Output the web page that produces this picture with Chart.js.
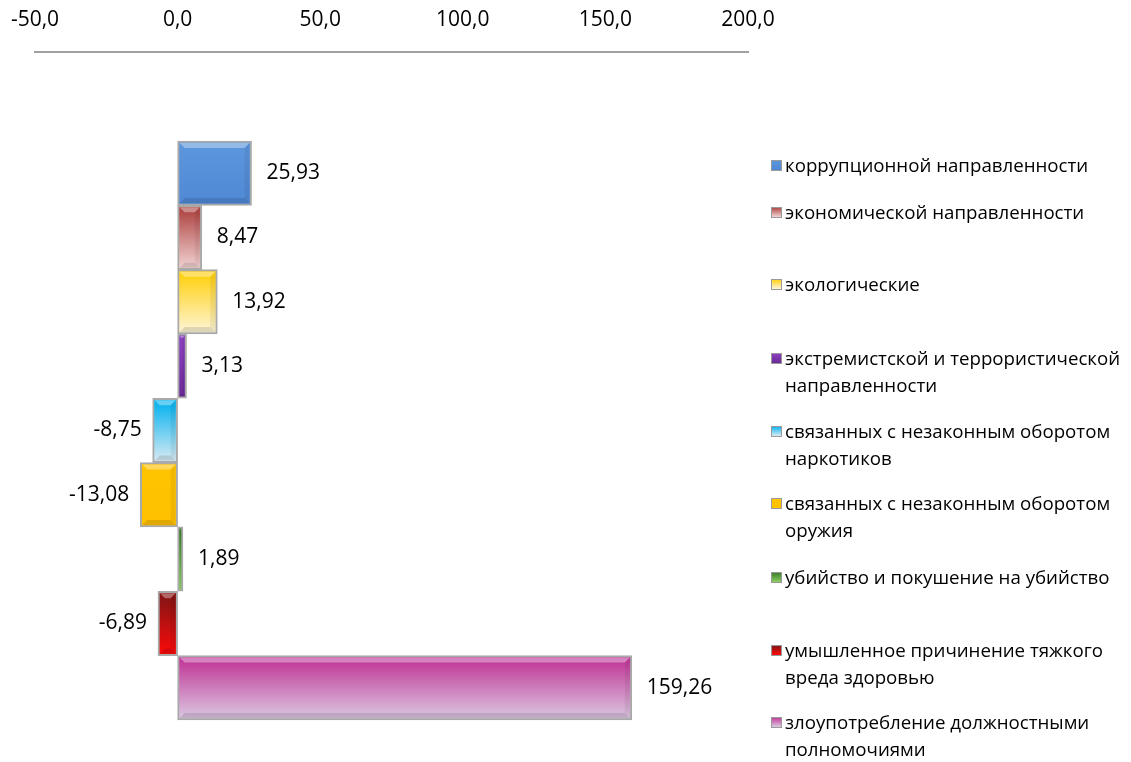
<!DOCTYPE html>
<html>
<head>
<meta charset="utf-8">
<script src="https://cdn.jsdelivr.net/npm/chart.js@4/dist/chart.umd.min.js"></script>
<style>
  html, body { margin: 0; padding: 0; background: #fff; }
  #wrap { position: relative; width: 1131px; height: 762px; font-family: "Open Sans", sans-serif; }
  #chart { position: absolute; left: 0; top: 0; }
  #legend { position: absolute; left: 0; top: 0; }
  .lg-item { position: absolute; left: 771px; width: 360px; display: flex; align-items: flex-start; font-size: 18.7px; line-height: 27px; color: #000; }
  .lg-box { width: 9px; height: 9px; margin-top: 9px; margin-right: 3px; border: 1px solid #9a9a9a; flex: none; }
</style>
</head>
<body>
<div id="wrap">
  <canvas id="chart" width="1131" height="762"></canvas>
  <div id="legend"></div>
</div>
<script>
const categories = [
  'коррупционной направленности',
  'экономической направленности',
  'экологические',
  'экстремистской и террористической направленности',
  'связанных с незаконным оборотом наркотиков',
  'связанных с незаконным оборотом оружия',
  'убийство и покушение на убийство',
  'умышленное причинение тяжкого вреда здоровью',
  'злоупотребление должностными полномочиями'
];
const values = [25.93, 8.47, 13.92, 3.13, -8.75, -13.08, 1.89, -6.89, 159.26];
const axisMin = -50;
const axisMax = 200;
const axisStep = 50;

// top -> bottom gradient stops per series
const fills = [
  ['#5b95dc', '#4f88d4'],
  ['#b24d4b', '#f3d6d6'],
  ['#ffd21a', '#fdf6dc'],
  ['#8b3fbf', '#6a2a96'],
  ['#14b6ef', '#dcecf3'],
  ['#ffc400', '#ffc000'],
  ['#3f7f2e', '#8ccf62'],
  ['#8a1414', '#ff0a0a'],
  ['#c2409c', '#dccbe3']
];

const fmt = v => v.toFixed(2).replace('.', ',');

function barFill(ctx) {
  const chart = ctx.chart;
  const stops = fills[ctx.datasetIndex];
  if (!chart.chartArea) return stops[0];
  const y = chart.scales.y;
  const i = ctx.datasetIndex;
  const top = y.getPixelForValue(i - 0.5);
  const bottom = y.getPixelForValue(i + 0.5);
  const g = chart.ctx.createLinearGradient(0, top, 0, bottom);
  g.addColorStop(0, stops[0]);
  g.addColorStop(0.12, stops[0]);
  g.addColorStop(1, stops[1]);
  return g;
}

// soft bevel on each bar, roughly like the office 3d style
const bevel = {
  id: 'bevel',
  afterDatasetsDraw(chart) {
    const c = chart.ctx;
    c.save();
    chart.data.datasets.forEach((ds, di) => {
      const el = chart.getDatasetMeta(di).data[0];
      if (!el) return;
      const l = Math.min(el.x, el.base) + 2, r = Math.max(el.x, el.base) - 2;
      const t = el.y - el.height / 2 + 2, b = el.y + el.height / 2 - 2;
      const d = Math.min(5, (r - l) / 2);
      c.fillStyle = 'rgba(255,255,255,0.35)';
      c.beginPath();
      c.moveTo(l, t); c.lineTo(r, t); c.lineTo(r - d, t + d); c.lineTo(l + d, t + d); c.closePath();
      c.fill();
      c.fillStyle = 'rgba(0,0,0,0.12)';
      c.beginPath();
      c.moveTo(l, b); c.lineTo(r, b); c.lineTo(r - d, b - d); c.lineTo(l + d, b - d); c.closePath();
      c.fill();
      c.fillStyle = 'rgba(0,0,0,0.06)';
      c.beginPath();
      c.moveTo(r, t); c.lineTo(r, b); c.lineTo(r - d, b - d); c.lineTo(r - d, t + d); c.closePath();
      c.fill();
    });
    c.restore();
  }
};

const valueLabels = {
  id: 'valueLabels',
  afterDatasetsDraw(chart) {
    const c = chart.ctx;
    c.save();
    c.font = '21px "Open Sans", sans-serif';
    c.fillStyle = '#000';
    c.textBaseline = 'middle';
    chart.data.datasets.forEach((ds, di) => {
      const el = chart.getDatasetMeta(di).data[0];
      if (!el) return;
      const v = ds.data[0].x;
      if (v >= 0) {
        c.textAlign = 'left';
        c.fillText(fmt(v), el.x + 15, el.y);
      } else {
        c.textAlign = 'right';
        c.fillText(fmt(v), el.x - 11, el.y);
      }
    });
    c.restore();
  }
};

const chart = new Chart(document.getElementById('chart'), {
  type: 'bar',
  data: {
    datasets: categories.map((name, i) => ({
      label: name,
      data: [{ x: values[i], y: i }],
      backgroundColor: barFill,
      borderColor: '#a9a9a9',
      borderWidth: 2,
      borderSkipped: false,
      grouped: false,
      categoryPercentage: 1,
      barPercentage: 1
    }))
  },
  options: {
    indexAxis: 'y',
    responsive: false,
    animation: false,
    layout: { padding: { left: 35, right: 383, top: 0, bottom: 0 } },
    plugins: { legend: { display: false }, tooltip: { enabled: false } },
    scales: {
      x: {
        type: 'linear',
        position: 'top',
        min: axisMin,
        max: axisMax,
        afterFit(scale) {
          scale.height = 52;
          scale.paddingLeft = 0;
          scale.paddingRight = 0;
        },
        ticks: {
          stepSize: axisStep,
          color: '#000',
          padding: 19,
          font: { family: '"Open Sans", sans-serif', size: 21 },
          callback: v => v.toFixed(1).replace('.', ',')
        },
        grid: { display: false, drawTicks: false, tickLength: 0 },
        border: { display: true, color: '#a0a0a0', width: 2 }
      },
      y: {
        type: 'linear',
        display: false,
        offset: false,
        reverse: true,
        min: -1.883,
        max: 9.154,
        afterBuildTicks(scale) {
          scale.ticks = categories.map((c, i) => ({ value: i }));
        }
      }
    }
  },
  plugins: [bevel, valueLabels]
});

// legend on the right, built from the chart's datasets
const legendTops = [151, 198, 270, 344, 417, 489, 563, 636, 708];
const legend = document.getElementById('legend');
chart.data.datasets.forEach((ds, i) => {
  const item = document.createElement('div');
  item.className = 'lg-item';
  item.style.top = legendTops[i] + 'px';
  const box = document.createElement('span');
  box.className = 'lg-box';
  box.style.background = 'linear-gradient(' + fills[i][0] + ',' + fills[i][1] + ')';
  const txt = document.createElement('span');
  txt.textContent = ds.label;
  item.appendChild(box);
  item.appendChild(txt);
  legend.appendChild(item);
});
</script>
</body>
</html>
